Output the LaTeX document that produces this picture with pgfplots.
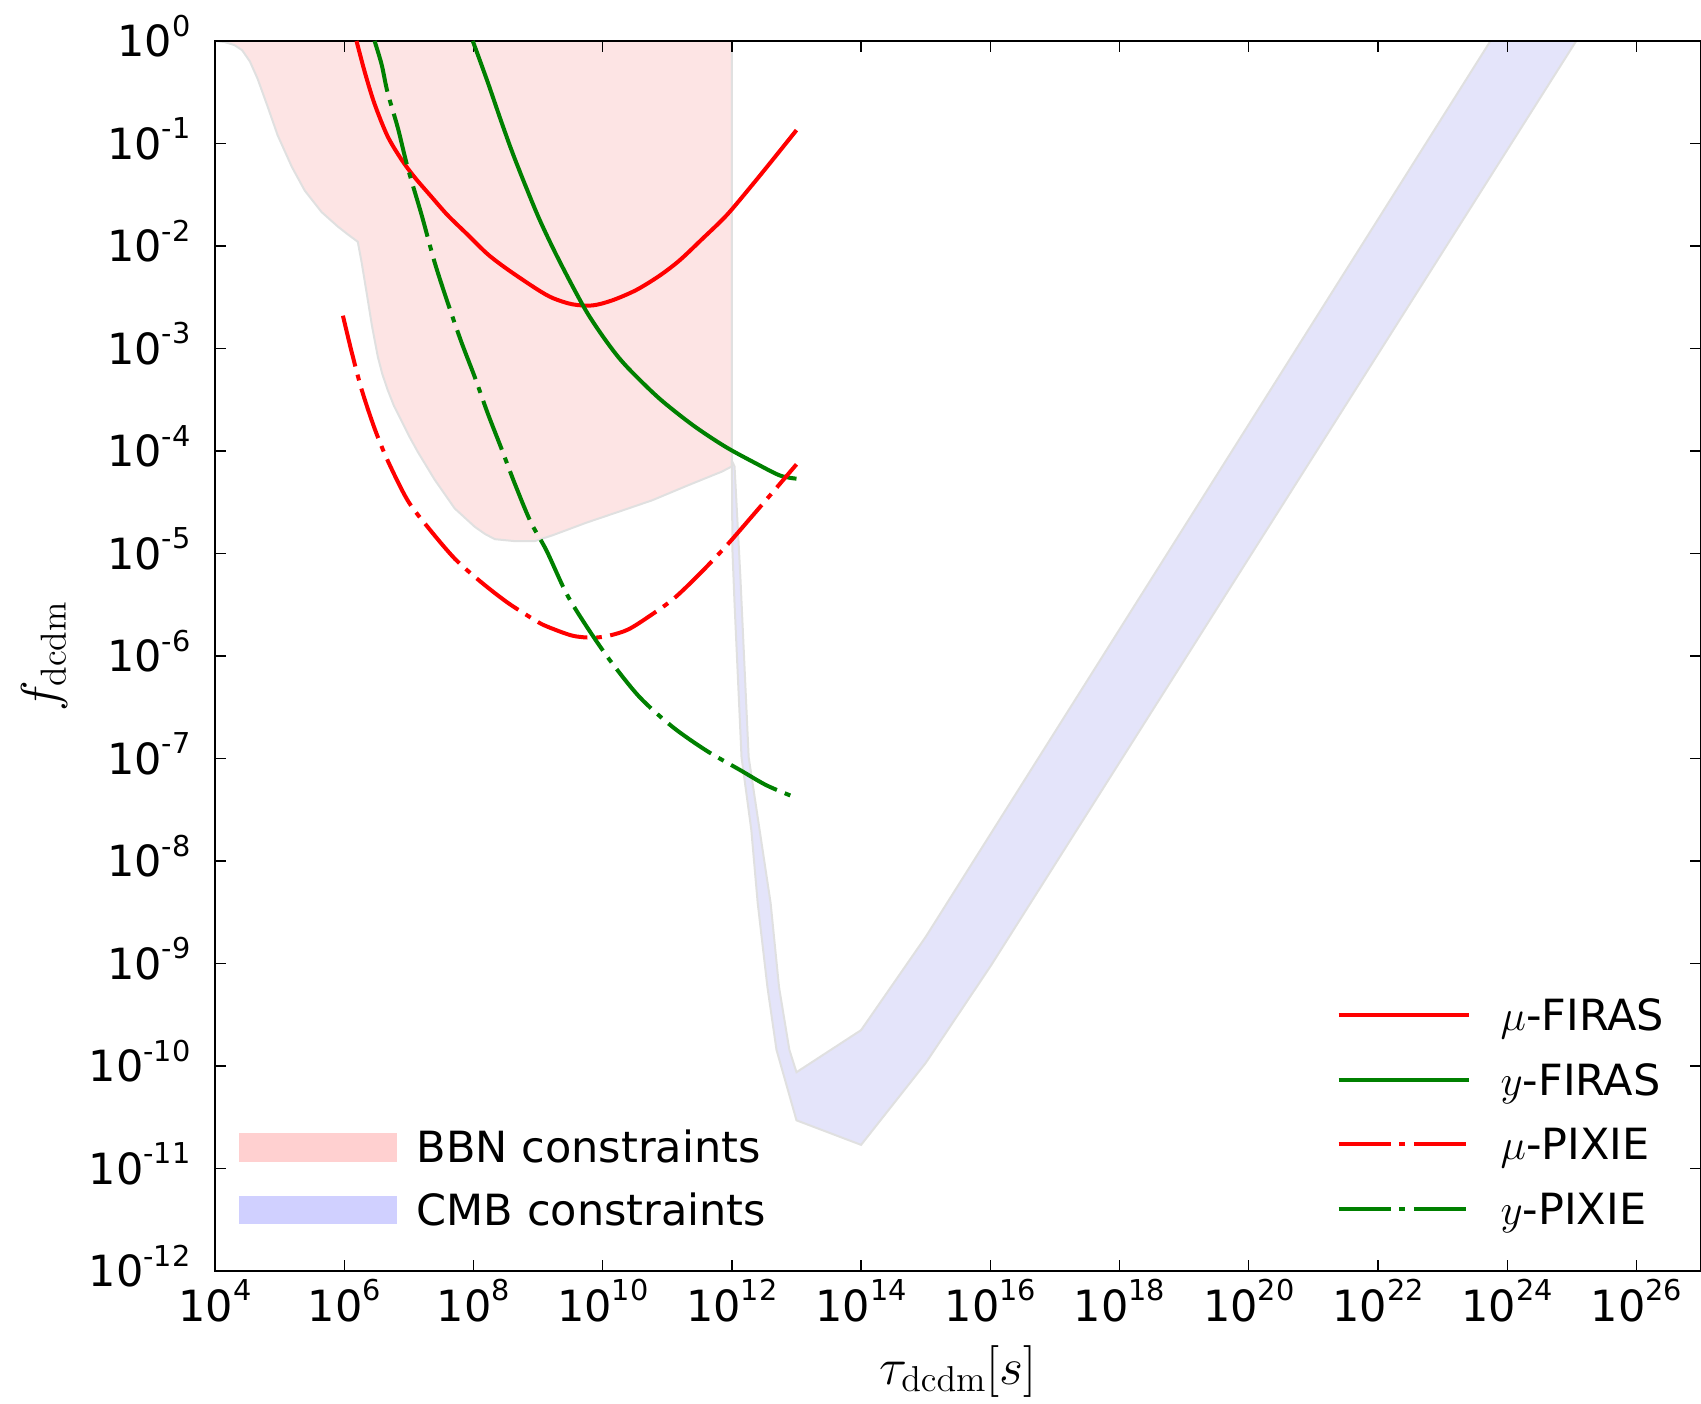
\documentclass[border=0pt]{standalone}
\usepackage[no-math]{fontspec}
\setmainfont{DejaVu Sans}
\usepackage{pgfplots}
\pgfplotsset{compat=1.18}
\newcommand\sps[1]{\raisebox{0.48em}{\fontsize{11.5}{11.5}\selectfont #1}}
\newcommand\tl[1]{10\sps{#1}}
\definecolor{bbnfill}{RGB}{253,228,228}
\definecolor{cmbfill}{RGB}{228,228,250}
\definecolor{bbnleg}{RGB}{255,208,208}
\definecolor{cmbleg}{RGB}{208,208,255}
\definecolor{edgegray}{RGB}{224,224,224}
\definecolor{mplgreen}{RGB}{0,128,0}
\tikzset{mpldashdot/.style={dash pattern=on 20.9pt off 3.4pt on 2.4pt off 3.4pt}}
\begin{document}
\begin{tikzpicture}
\begin{axis}[scale only axis, width=594.4pt, height=492pt,
  xmode=log, ymode=log, xmin=1e4, xmax=1e27, ymin=1e-12, ymax=1,
  xminorticks=false, yminorticks=false,
  axis on top,
  axis line style={line width=1pt},
  tick align=inside,
  major tick length=4.5pt,
  tick style={line width=0.5pt, black},
  xtick={1e4,1e6,1e8,1e10,1e12,1e14,1e16,1e18,1e20,1e22,1e24,1e26},
  xticklabels={\tl{4},\tl{6},\tl{8},\tl{10},\tl{12},\tl{14},\tl{16},\tl{18},\tl{20},\tl{22},\tl{24},\tl{26}},
  ytick={1e-12,1e-11,1e-10,1e-9,1e-8,1e-7,1e-6,1e-5,1e-4,1e-3,1e-2,1e-1,1},
  yticklabels={\tl{-12},\tl{-11},\tl{-10},\tl{-9},\tl{-8},\tl{-7},\tl{-6},\tl{-5},\tl{-4},\tl{-3},\tl{-2},\tl{-1},\tl{0}},
  xticklabel style={font=\fontsize{17.2}{17.2}\selectfont, anchor=base, inner sep=0pt, yshift=-20pt},
  yticklabel style={font=\fontsize{17.2}{17.2}\selectfont, anchor=base east, inner sep=0pt, xshift=-9.6pt, yshift=-6.27pt},
  xlabel={$\tau_{\mathrm{dcdm}}[s]$}, ylabel={$f_{\mathrm{dcdm}}$},
  xlabel style={at={(axis description cs:0.5,-0.0919)}, anchor=base, inner sep=0pt, font=\fontsize{21}{21}\selectfont},
  ylabel style={at={(axis description cs:-0.1058,0.5)}, anchor=base, inner sep=0pt, font=\fontsize{21}{21}\selectfont},
  legend cell align=left,
  legend style={draw=none, fill=none, at={(axis description cs:0.0164,0.1133)}, anchor=north west,
    inner sep=0pt, outer sep=0pt, row sep=12.6pt, column sep=8pt,
    font=\fontsize{17.2}{17.2}\selectfont,
    nodes={inner sep=0pt, text height=12.5pt, text depth=0pt}},
]
\addplot[fill=bbnfill, draw=edgegray, line width=0.8pt,
  legend image code/.code={\fill[bbnleg] (0pt,-5.35pt) rectangle (62.2pt,5.35pt);}]
  coordinates {(1e4,1) (1.41e4,0.977) (2.00e4,0.912) (2.63e4,0.813) (3.47e4,0.631) (4.57e4,0.427)
  (6.61e4,0.224) (9.33e4,0.120) (1.55e5,5.89e-2) (2.45e5,3.47e-2) (4.47e5,2.14e-2) (7.94e5,1.55e-2)
  (1.15e6,1.29e-2) (1.62e6,1.10e-2)
  (1.86e6,6.92e-3) (2.24e6,3.39e-3) (2.69e6,1.66e-3) (3.31e6,8.32e-4) (3.89e6,5.62e-4) (4.68e6,3.98e-4)
  (5.89e6,2.75e-4) (7.76e6,1.95e-4) (1.02e7,1.38e-4)
  (1.38e7,9.77e-5) (2.51e7,5.25e-5) (5.13e7,2.75e-5) (1.05e8,1.82e-5) (1.51e8,1.55e-5) (2.14e8,1.38e-5) (4.37e8,1.32e-5)
  (8.91e8,1.32e-5) (1.70e9,1.51e-5) (5.62e9,2.00e-5) (1.82e10,2.57e-5) (5.89e10,3.31e-5) (2.00e11,4.57e-5)
  (7.08e11,6.31e-5) (1e12,7.08e-5) (1e12,1) (1e4,1)};
\addlegendentry{BBN constraints}
\addplot[fill=cmbfill, draw=edgegray, line width=0.8pt,
  legend image code/.code={\fill[cmbleg] (0pt,-5.35pt) rectangle (62.2pt,5.35pt);}]
  coordinates {(1e12,8e-5) (1.02e12,1.07e-5) (1.10e12,3.24e-6) (1.41e12,1.03e-7) (2.00e12,2.00e-8)
  (2.51e12,3.89e-9) (3.55e12,5.89e-10) (4.90e12,1.44e-10) (1e13,2.95e-11) (1e14,1.70e-11) (1e15,1.07e-10)
  (1e16,9.33e-10) (1.17e25,1) (5.5e23,1) (1e15,1.82e-9) (1e14,2.24e-10) (1e13,8.7e-11) (7.76e12,1.44e-10)
  (5.37e12,5.89e-10) (3.98e12,3.89e-9) (2.69e12,2.00e-8) (1.82e12,1.03e-7) (1.35e12,6.17e-6)
  (1.10e12,7.08e-5) (1e12,8e-5)};
\addlegendentry{CMB constraints}
\end{axis}
\begin{axis}[scale only axis, width=594.4pt, height=492pt,
  xmode=log, ymode=log, xmin=1e4, xmax=1e27, ymin=1e-12, ymax=1,
  hide axis,
  legend cell align=left,
  legend image code/.code={\draw[#1] (0pt,0pt) -- (52pt,0pt);},
  legend style={draw=none, fill=none, at={(axis description cs:0.7548,0.2208)}, anchor=north west,
    inner sep=0pt, outer sep=0pt, row sep=13.3pt, column sep=12pt,
    font=\fontsize{17.2}{17.2}\selectfont,
    nodes={inner sep=0pt, text height=12.5pt, text depth=0pt}},
]
\addplot[red, line width=1.6pt, smooth] coordinates {(1.55e6,1) (2.09e6,0.492) (2.95e6,0.243) (4.68e6,0.118)
  (7.76e6,6.92e-2) (1.23e7,4.68e-2) (2.24e7,3.02e-2) (3.98e7,2.00e-2) (8.13e7,1.29e-2) (1.66e8,8.32e-3)
  (3.39e8,5.9e-3) (9.55e8,3.8e-3) (1.70e9,3.1e-3) (3.39e9,2.7e-3) (6.92e9,2.63e-3) (1.41e10,2.95e-3)
  (3.31e10,3.72e-3) (7.59e10,5.13e-3) (1.55e11,7.24e-3) (3.47e11,1.17e-2) (8.32e11,2.00e-2)
  (2.09e12,3.98e-2) (4.27e12,6.92e-2) (1e13,0.135)};
\addlegendentry{$\mu$-FIRAS}
\addplot[mplgreen, line width=1.6pt, smooth] coordinates {(9.77e7,1) (1.66e8,0.398) (2.75e8,0.158) (4.37e8,7.08e-2)
  (9.55e8,2.09e-2) (1.70e9,9.55e-3) (3.09e9,4.57e-3) (5.62e9,2.29e-3) (1e10,1.32e-3) (1.78e10,8.13e-4)
  (3.16e10,5.50e-4) (7.94e10,3.16e-4) (2.51e11,1.78e-4) (7.94e11,1.10e-4) (2.51e12,7.41e-5)
  (5.62e12,5.75e-5) (1e13,5.37e-5)};
\addlegendentry{$y$-FIRAS}
\addplot[red, line width=1.6pt, mpldashdot, smooth] coordinates {(9.55e5,2.09e-3) (1.29e6,9.5e-4) (1.86e6,3.98e-4)
  (2.95e6,1.66e-4) (4.68e6,8.13e-5) (9.55e6,3.31e-5) (1.95e7,1.82e-5) (5.13e7,8.91e-6) (1.32e8,5.25e-6)
  (3.39e8,3.31e-6) (8.91e8,2.24e-6) (1.35e9,1.95e-6) (3.39e9,1.58e-6) (7.08e9,1.51e-6) (1.26e10,1.58e-6)
  (2.51e10,1.82e-6) (5.62e10,2.51e-6) (1.26e11,3.63e-6) (3.16e11,6.31e-6) (8.32e11,1.20e-5)
  (2.09e12,2.34e-5) (4.90e12,4.37e-5) (1e13,7.41e-5)};
\addlegendentry{$\mu$-PIXIE}
\addplot[mplgreen, line width=1.6pt, mpldashdot, smooth] coordinates {(2.95e6,1) (3.80e6,0.587) (4.68e6,0.316)
  (6.76e6,0.142) (9.55e6,5.89e-2) (1.58e7,2.00e-2) (2.51e7,6.92e-3) (3.98e7,2.82e-3) (6.46e7,1.17e-3)
  (1.05e8,5.25e-4) (1.66e8,2.34e-4) (2.69e8,1.07e-4) (4.37e8,4.79e-5) (7.67e8,2.04e-5) (1.35e9,1.07e-5)
  (2.75e9,4.07e-6) (5.62e9,1.95e-6) (1.29e10,9.12e-7) (3.72e10,3.98e-7) (1.20e11,2.04e-7) (3.98e11,1.20e-7)
  (1.32e12,7.76e-8) (3.39e12,5.50e-8) (8.71e12,4.27e-8) (1e13,4.2e-8)};
\addlegendentry{$y$-PIXIE}
\end{axis}
\pgfresetboundingbox
\useasboundingbox (-86pt,-53.2pt) rectangle (594.4pt,508.4pt);
\end{tikzpicture}
\end{document}
